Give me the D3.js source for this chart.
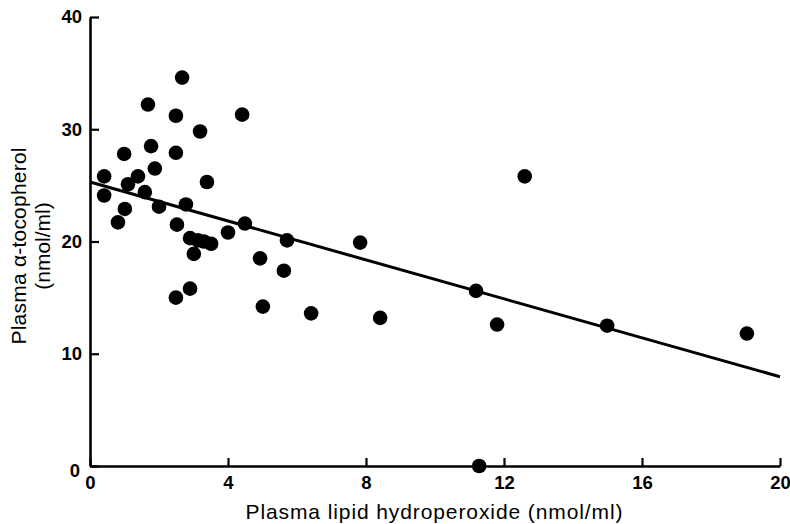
<!DOCTYPE html>
<html><head><meta charset="utf-8">
<script src="https://cdn.jsdelivr.net/npm/d3@7"></script>
<style>body{margin:0;background:#fff;} svg{display:block;}</style>
</head><body>
<script>
const hydroperoxide = [0.41,0.41,0.99,0.81,1.01,1.10,1.39,1.59,1.68,1.77,1.88,2.0,2.49,2.49,2.52,2.49,2.67,2.78,2.90,2.90,3.01,3.13,3.19,3.30,3.39,3.51,4.0,4.41,4.49,4.93,5.01,5.62,5.71,6.41,7.83,8.41,11.19,11.8,12.6,14.99,19.04,11.28];
const tocopherol   = [25.8,24.1,27.8,21.7,22.9,25.1,25.8,24.4,32.2,28.5,26.5,23.1,31.2,27.9,21.5,15.0,34.6,23.3,15.8,20.3,18.9,20.1,29.8,20.0,25.3,19.8,20.8,31.3,21.6,18.5,14.2,17.4,20.1,13.6,19.9,13.2,15.6,12.6,25.8,12.5,11.8,0];
const fitX = [0, 20];
const fitY = [25.3, 7.95];
const xTicks = [0,4,8,12,16,20];
const yTicks = [0,10,20,30,40];

const W=790,H=524;
const svg=d3.select("body").append("svg").attr("width",W).attr("height",H);
const x=d3.scaleLinear().domain([0,20]).range([90,780]);
const y=d3.scaleLinear().domain([0,40]).range([466,17]);

const font="'Liberation Sans', Arial, sans-serif";

// axes
const xa=svg.append("g").attr("transform","translate(0,466)")
  .call(d3.axisBottom(x).tickValues(xTicks).tickSize(-8).tickSizeOuter(0).tickPadding(12));
const ya=svg.append("g").attr("transform","translate(90,0)")
  .call(d3.axisLeft(y).tickValues(yTicks).tickSize(-9).tickSizeOuter(0).tickPadding(9));
[xa,ya].forEach(g=>{
  g.select(".domain").attr("stroke","#000").attr("stroke-width",2.6);
  g.selectAll(".tick line").attr("stroke","#000").attr("stroke-width",2.2);
  g.selectAll(".tick text").attr("font-family",font).attr("font-weight","bold")
    .attr("font-size",18.5).attr("fill","#000");
});
ya.selectAll(".tick text").attr("x",-8);
ya.selectAll(".tick").filter(d=>d===0).select("text").attr("dy","0.55em").attr("x",-10);
xa.selectAll(".tick text").attr("dy","0.6em");

// regression line
svg.append("line")
  .attr("x1",x(fitX[0])).attr("y1",y(fitY[0]))
  .attr("x2",x(fitX[1])).attr("y2",y(fitY[1]))
  .attr("stroke","#000").attr("stroke-width",3);

// points
svg.append("g").selectAll("circle").data(hydroperoxide.map((v,i)=>[v,tocopherol[i]]))
  .join("circle").attr("cx",d=>x(d[0])).attr("cy",d=>y(d[1])).attr("r",7.3).attr("fill","#000");

// axis titles
svg.append("text").attr("x",434).attr("y",519).attr("text-anchor","middle")
  .attr("font-family",font).attr("font-size",21).attr("fill","#000")
  .attr("textLength",377).attr("lengthAdjust","spacing")
  .text("Plasma lipid hydroperoxide (nmol/ml)");
const yt=svg.append("text").attr("transform","translate(0,246) rotate(-90)")
  .attr("text-anchor","middle").attr("font-family",font).attr("font-size",21).attr("fill","#000");
yt.append("tspan").attr("x",0).attr("y",26).attr("textLength",197).attr("lengthAdjust","spacing").text("Plasma α-tocopherol");
yt.append("tspan").attr("x",0).attr("y",50).text("(nmol/ml)");
</script>
</body></html>
